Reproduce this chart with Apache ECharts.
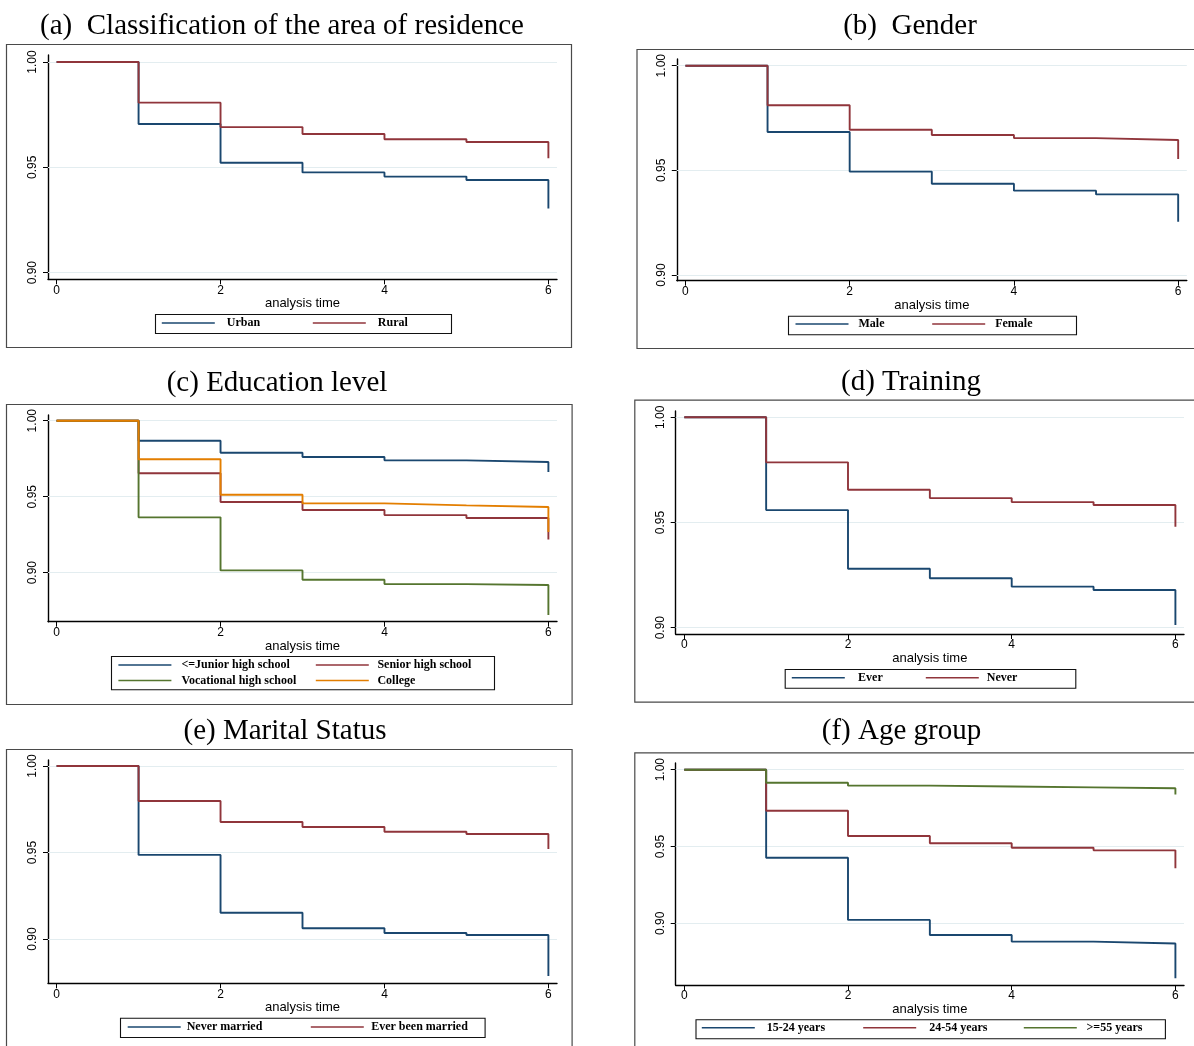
<!DOCTYPE html>
<html>
<head>
<meta charset="utf-8">
<script src="https://cdn.jsdelivr.net/npm/echarts@6/dist/echarts.min.js"></script>
<style>
html,body{margin:0;padding:0;background:#fff;}
#chart{width:1194px;height:1046px;}
</style>
</head>
<body>
<div id="chart"></div>
<script>
// ---- data ----
const times = [0, 1, 2, 3, 4, 5, 6];
const xTicks = [0, 2, 4, 6];
const yTicks = [0.90, 0.95, 1.00];

// (a) area of residence
const urban = [1.000, 0.9706, 0.9522, 0.9476, 0.9456, 0.9440, 0.9305];
const rural = [1.000, 0.9807, 0.9691, 0.9658, 0.9633, 0.9620, 0.9543];
// (b) gender
const male = [1.000, 0.9683, 0.9494, 0.9436, 0.9403, 0.9385, 0.9255];
const female = [1.000, 0.9811, 0.9694, 0.9669, 0.9654, 0.9645, 0.9554];
// (c) education
const juniorHigh = [1.000, 0.9868, 0.9789, 0.9761, 0.9739, 0.9728, 0.9662];
const seniorHigh = [1.000, 0.9654, 0.9465, 0.9412, 0.9379, 0.9360, 0.9219];
const vocationalHigh = [1.000, 0.9364, 0.9015, 0.8954, 0.8925, 0.8919, 0.8721];
const college = [1.000, 0.9746, 0.9513, 0.9456, 0.9443, 0.9432, 0.9268];
// (d) training
const ever = [1.000, 0.9559, 0.9280, 0.9235, 0.9195, 0.9179, 0.9013];
const never = [1.000, 0.9786, 0.9656, 0.9616, 0.9597, 0.9583, 0.9480];
// (e) marital status
const neverMarried = [1.000, 0.9486, 0.9152, 0.9062, 0.9035, 0.9023, 0.8786];
const everMarried = [1.000, 0.9798, 0.9676, 0.9647, 0.9620, 0.9607, 0.9520];
// (f) age group
const age1524 = [1.000, 0.9427, 0.9022, 0.8924, 0.8881, 0.8868, 0.8642];
const age2454 = [1.000, 0.9733, 0.9568, 0.9521, 0.9492, 0.9475, 0.9358];
const age55 = [1.000, 0.9915, 0.9896, 0.9891, 0.9885, 0.9879, 0.9839];

const titles = ['(a)  Classification of the area of residence', '(b)  Gender', '(c) Education level',
                '(d) Training', '(e) Marital Status', '(f) Age group'];

// ---- colours (Stata s2color) ----
const NAVY = '#1a476f', MAROON = '#90353b', GREEN = '#55752f', ORANGE = '#e37e00';

// ---- panel layout (pixels); legend key: [line start x, centre y, text padding] ----
const panels = [
  { title: titles[0], tx: 282, ty: 26, frame: [6, 44, 565, 303],
    grid: [48, 55, 509, 224.3], yr: [0.89686, 1.00332],
    series: [['Urban', urban, NAVY], ['Rural', rural, MAROON]],
    keys: [[161, 324, 7], [312, 324, 7]], legBox: [155, 314, 296, 19] },
  { title: titles[1], tx: 910, ty: 26, frame: [636.5, 49, 570, 299],
    grid: [676.8, 59, 510, 221.7], yr: [0.89728, 1.0032],
    series: [['Male', male, NAVY], ['Female', female, MAROON]],
    keys: [[794.7, 325, 5], [931.4, 325, 5]], legBox: [788, 315.7, 288, 18.6] },
  { title: titles[2], tx: 277, ty: 383, frame: [6, 404, 565.6, 300],
    grid: [48, 415, 509, 206.7], yr: [0.86776, 1.00375],
    series: [['<=Junior high school', juniorHigh, NAVY], ['Senior high school', seniorHigh, MAROON],
             ['Vocational high school', vocationalHigh, GREEN], ['College', college, ORANGE]],
    keys: [[117.6, 666, 5], [315, 666, 3.6], [117.6, 681.5, 5], [315, 681.5, 3.6]], legBox: [111, 656, 383, 33.3] },
  { title: titles[3], tx: 911, ty: 382, frame: [634.3, 399.7, 570, 302],
    grid: [675.7, 411, 508.3, 223], yr: [0.897, 1.003],
    series: [['Ever', ever, NAVY], ['Never', never, MAROON]],
    keys: [[791, 678.7, 8.3], [925, 678.7, 3]], legBox: [784.7, 669, 290.6, 18.7] },
  { title: titles[4], tx: 285, ty: 731, frame: [6, 749, 565.6, 320],
    grid: [48, 760, 509, 223.3], yr: [0.87439, 1.00347],
    series: [['Never married', neverMarried, NAVY], ['Ever been married', everMarried, MAROON]],
    keys: [[126.9, 1028, 1], [310, 1028, 2.4]], legBox: [120, 1017.7, 364.6, 19.3] },
  { title: titles[5], tx: 901.5, ty: 731, frame: [634.3, 752.3, 570, 320],
    grid: [675.7, 763, 508.3, 222], yr: [0.85983, 1.00436],
    series: [['15-24 years', age1524, NAVY], ['24-54 years', age2454, MAROON], ['>=55 years', age55, GREEN]],
    keys: [[701, 1028.7, 7], [862.4, 1028.7, 8], [1023, 1028.7, 4.7]], legBox: [695.5, 1019.3, 469.4, 19] }
];

const SANS = 'Liberation Sans, Arial, sans-serif';
const SERIF = 'Liberation Serif, Times New Roman, serif';

const option = {
  animation: false,
  backgroundColor: '#fff',
  title: [], grid: [], xAxis: [], yAxis: [], series: [], legend: [],
  graphic: { elements: [] }
};

panels.forEach((p, i) => {
  option.title.push({
    text: p.title, left: p.tx, top: p.ty, padding: 0,
    textAlign: 'center', textVerticalAlign: 'middle',
    textStyle: { fontFamily: SERIF, fontWeight: 'normal', fontSize: 29, color: '#000' }
  });
  option.grid.push({ left: p.grid[0], top: p.grid[1], width: p.grid[2], height: p.grid[3], containLabel: false });
  option.xAxis.push({
    type: 'value', gridIndex: i, min: -0.105, max: 6.105,
    name: 'analysis time', nameLocation: 'middle', nameGap: 17,
    nameTextStyle: { fontFamily: SANS, fontSize: 13, color: '#000' },
    axisLine: { show: true, onZero: false, lineStyle: { color: '#000', width: 1.4 } },
    axisTick: { show: true, length: 5, customValues: xTicks, lineStyle: { color: '#000', width: 1 } },
    axisLabel: { show: true, customValues: xTicks, margin: 5, fontFamily: SANS, fontSize: 12, color: '#000' },
    splitLine: { show: false }
  });
  option.yAxis.push({
    type: 'value', gridIndex: i, min: p.yr[0], max: p.yr[1],
    axisLine: { show: true, onZero: false, lineStyle: { color: '#000', width: 1.4 } },
    axisTick: { show: true, length: 5, customValues: yTicks, lineStyle: { color: '#000', width: 1 } },
    axisLabel: { show: true, customValues: yTicks, rotate: 90, margin: 9, fontFamily: SANS, fontSize: 12, color: '#000',
                 formatter: v => Number(v).toFixed(2) },
    splitLine: { show: false }
  });
  p.series.forEach((s, k) => {
    const ser = {
      type: 'line', name: s[0], xAxisIndex: i, yAxisIndex: i, step: 'end',
      symbol: 'none', showSymbol: false, color: s[2], silent: true,
      lineStyle: { color: s[2], width: 1.9 },
      data: times.map((t, j) => [t, s[1][j]])
    };
    if (k === 0) {
      ser.markLine = {
        silent: true, symbol: 'none', z: 1, label: { show: false },
        lineStyle: { color: '#e3edf0', width: 1, type: 'solid' },
        data: yTicks.map(v => ({ yAxis: v }))
      };
    }
    option.series.push(ser);
    const key = p.keys[k];
    option.legend.push({
      data: [s[0]], left: key[0], top: key[1] - 7, padding: 0,
      orient: 'horizontal', itemWidth: 53, itemHeight: 14,
      selectedMode: false,
      itemStyle: { opacity: 0, borderWidth: 0 },
      lineStyle: { width: 1.6 },
      textStyle: { fontFamily: SERIF, fontWeight: 'bold', fontSize: 12, color: '#000',
                   padding: [0, 0, 0, key[2]] }
    });
  });
  option.graphic.elements.push({
    type: 'rect', silent: true, z: 0,
    shape: { x: p.frame[0] + 0.5, y: p.frame[1] + 0.5, width: p.frame[2], height: p.frame[3] },
    style: { fill: 'none', stroke: '#4a4a4a', lineWidth: 1.2 }
  });
  option.graphic.elements.push({
    type: 'rect', silent: true, z: 0,
    shape: { x: p.legBox[0] + 0.5, y: p.legBox[1] + 0.5, width: p.legBox[2], height: p.legBox[3] },
    style: { fill: 'none', stroke: '#111', lineWidth: 1.1 }
  });
});

const chart = echarts.init(document.getElementById('chart'), null, { renderer: 'canvas' });
chart.setOption(option);
</script>
</body>
</html>
